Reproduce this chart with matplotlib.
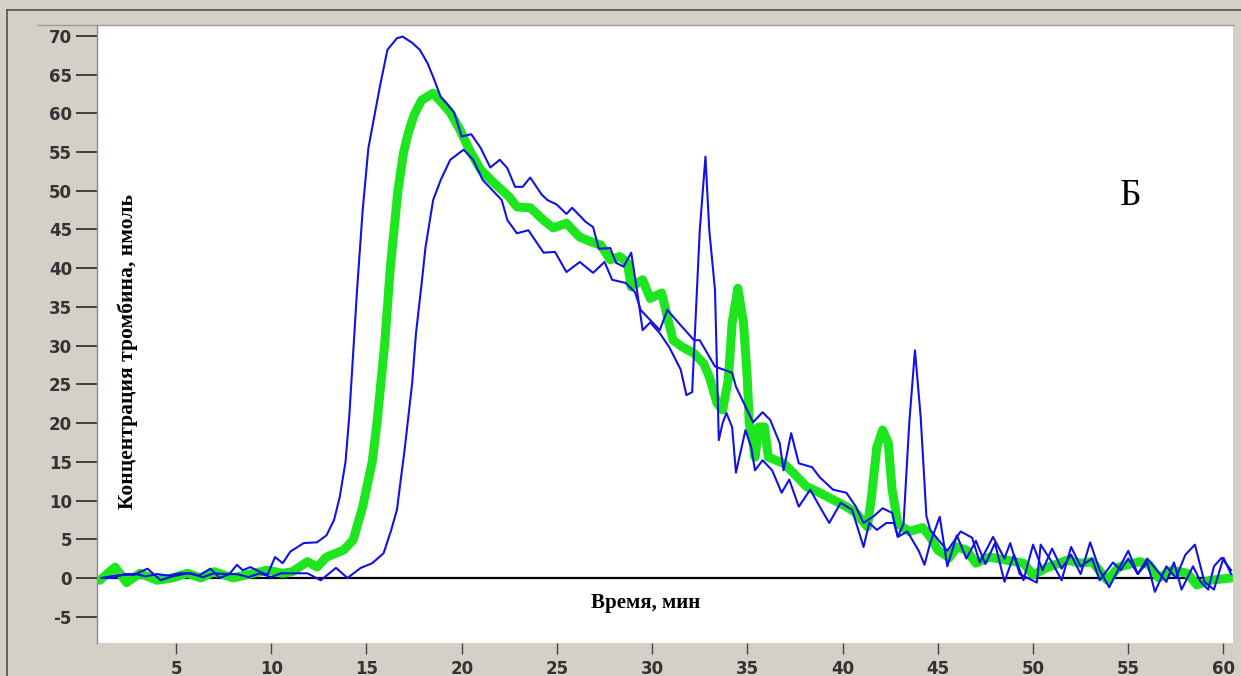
import matplotlib
matplotlib.use("Agg")
import matplotlib.pyplot as plt
from matplotlib.lines import Line2D

plt.rcParams["axes.unicode_minus"] = False

# -----------------------
# Data
# -----------------------

# early blue curve (rises first, spike near 33 min)
blue_a_x = [1.1, 1.8, 2.3, 2.8, 3.5, 4.2, 4.8, 5.6, 6.2, 6.8, 7.3, 7.8, 8.2, 8.5, 8.9,
            9.4, 9.8, 10.2, 10.6, 11.0, 11.7, 12.4, 12.9, 13.3, 13.6, 13.9, 14.1, 14.3,
            14.5, 14.8, 15.1, 15.7, 16.1, 16.6, 16.9, 17.4, 17.8, 18.2, 18.5, 18.9, 19.2,
            19.6, 20.0, 20.5, 21.0, 21.5, 22.0, 22.4, 22.8, 23.2, 23.6, 24.2, 24.5, 25.0,
            25.5, 25.8, 26.5, 26.9, 27.2, 27.8, 28.1, 28.5, 28.9, 29.2, 29.5, 29.9, 30.4,
            30.9, 31.5, 31.8, 32.1, 32.5, 32.8, 33.0, 33.3, 33.5, 33.7, 33.9, 34.2, 34.4,
            34.9, 35.2, 35.4, 35.8, 36.3, 36.8, 37.2, 37.7, 38.3, 38.8, 39.3, 39.9, 40.5,
            41.1, 41.4, 41.8, 42.3, 42.7, 42.9, 43.4, 44.0, 44.3, 44.6, 45.1, 45.5, 46.0,
            46.5, 47.0, 47.5, 48.0, 48.5, 49.0, 49.5, 50.0, 50.5, 51.0, 51.5, 52.0, 52.5,
            53.0, 53.5, 54.0, 54.5, 55.0, 55.5, 56.0, 56.4, 57.0, 57.5, 58.0, 58.5, 59.0,
            59.5, 60.0, 60.4]
blue_a_y = [0.0, 0.3, 0.4, 0.4, 1.2, -0.3, 0.2, 0.6, 0.3, 1.2, 0.0, 0.5, 1.7, 1.0, 1.4,
            0.8, 0.4, 2.7, 1.9, 3.4, 4.5, 4.6, 5.5, 7.5, 10.5, 15.0, 21.0, 29.0,
            37.0, 47.5, 55.5, 63.4, 68.2, 69.7, 69.9, 69.1, 68.2, 66.5, 64.7, 62.1, 61.3,
            60.1, 57.0, 57.3, 55.5, 53.0, 54.0, 52.9, 50.5, 50.5, 51.7, 49.5, 48.8, 48.2,
            47.0, 47.8, 46.0, 45.3, 42.5, 42.6, 40.7, 40.2, 42.0, 37.2, 32.0, 33.0, 31.6,
            29.8, 26.9, 23.6, 24.0, 44.9, 54.4, 44.9, 37.2, 17.8, 20.0, 21.3, 19.5, 13.6,
            19.1, 16.9, 13.9, 15.2, 13.9, 11.0, 12.7, 9.2, 11.4, 9.2, 7.1, 9.7, 8.8,
            4.0, 7.1, 6.2, 7.1, 7.1, 5.3, 6.0, 3.5, 1.7, 4.5, 7.9, 1.5, 5.5,
            2.5, 4.8, 1.8, 4.5, -0.5, 3.0, -0.3, 4.3, 1.0, 3.8, 1.2, 3.0, 0.5,
            4.6, 1.0, -1.2, 1.2, 3.5, 0.5, 2.0, -1.8, 1.5, 0.0, 3.0, 4.3, -0.5,
            -1.5, 2.6, 0.5]

# late blue curve (rises last, spike near 44 min)
blue_b_x = [1.1, 1.7, 2.3, 2.9, 3.4, 4.0, 4.6, 5.2, 5.8, 6.4, 7.0, 7.6, 8.2, 8.8, 9.4,
            10.0, 10.5, 11.2, 11.9, 12.6, 13.4, 14.0, 14.7, 15.3, 15.9, 16.3, 16.6, 16.8,
            17.0, 17.4, 17.6, 17.9, 18.1, 18.5, 18.9, 19.4, 20.1, 20.6, 21.1, 21.6, 22.1,
            22.4, 22.9, 23.5, 24.3, 24.9, 25.5, 26.2, 26.9, 27.5, 27.9, 28.6, 29.1, 29.4,
            29.9, 30.4, 30.8, 31.4, 32.2, 32.5, 33.3, 34.2, 34.4, 35.3, 35.8, 36.2, 36.7,
            36.9, 37.3, 37.7, 38.4, 38.8, 39.5, 40.2, 40.7, 41.1, 41.6, 42.1, 42.6, 42.9,
            43.2, 43.5, 43.8, 44.1, 44.4, 44.6, 45.0, 45.5, 46.2, 46.8, 47.2, 47.9, 48.5,
            48.8, 49.3, 50.2, 50.4, 51.0, 51.5, 52.0, 52.5, 53.1, 53.5, 54.2, 54.6, 55.0,
            55.5, 56.0, 56.5, 57.0, 57.4, 57.8, 58.4, 58.8, 59.2, 59.5, 59.9, 60.4]
blue_b_y = [0.0, 0.0, 0.5, 0.5, 0.2, 0.5, 0.3, 0.6, 0.6, 0.1, 0.6, 0.5, 0.5, 0.1, 0.6,
            0.1, 0.6, 0.6, 0.6, -0.3, 1.3, 0.0, 1.3, 1.9, 3.2, 6.2, 8.8, 12.7,
            16.5, 25.2, 31.6, 38.1, 42.7, 48.8, 51.4, 54.0, 55.3, 54.0, 51.4, 50.1, 48.8,
            46.2, 44.5, 44.9, 42.0, 42.1, 39.5, 40.8, 39.4, 40.8, 38.5, 38.1, 36.9, 34.6,
            33.3, 32.0, 34.6, 32.9, 30.7, 30.7, 27.3, 26.5, 24.7, 20.1, 21.4, 20.4, 17.4,
            13.9, 18.7, 14.8, 14.3, 13.0, 11.4, 11.0, 9.2, 7.1, 7.9, 9.0, 8.4, 5.3,
            7.0, 20.0, 29.4, 20.8, 8.0, 6.2, 5.0, 3.5, 6.0, 5.2, 2.0, 5.3, 2.5,
            4.5, 0.5, -0.6, 4.3, 2.0, -0.3, 4.0, 1.5, 2.5, -0.3, 2.0, 1.0, 2.5,
            0.5, 2.5, 1.0, -0.5, 2.0, -1.5, 1.5, -0.5, -1.5, 1.5, 2.6, 1.0]

# thick green curve (average)
green_x = [1.0, 1.8, 2.4, 3.1, 4.0, 4.8, 5.6, 6.3, 7.0, 8.0, 8.7, 9.8, 10.6, 11.1, 11.9,
           12.4, 12.9, 13.8, 14.3, 14.8, 15.3, 15.55, 15.75, 15.95, 16.25, 16.65, 16.95,
           17.2, 17.5, 17.9, 18.5, 18.9, 19.4, 19.9, 20.4, 21.0, 21.7, 22.5, 22.9, 23.6,
           24.3, 24.8, 25.5, 26.2, 26.9, 27.3, 27.8, 28.3, 28.7, 28.9, 29.5, 29.9, 30.5,
           30.8, 31.1, 31.6, 32.2, 32.7, 33.0, 33.4, 33.7, 34.0, 34.2, 34.5, 34.8, 35.0,
           35.1, 35.3, 35.4, 35.6, 35.9, 36.1, 36.5, 36.9, 37.4, 38.1, 38.8, 39.5, 40.2,
           40.7, 41.3, 41.5, 41.8, 42.1, 42.4, 42.6, 42.9, 43.5, 44.2, 44.6, 45.0, 45.6,
           46.0, 46.5, 47.0, 47.7, 48.6, 49.5, 50.0, 50.7, 51.8, 52.5, 53.1, 53.9, 54.5,
           55.6, 56.1, 56.6, 57.3, 58.1, 58.6, 59.3, 60.4]
green_y = [-0.3, 1.4, -0.6, 0.6, -0.3, 0.0, 0.6, 0.0, 0.8, 0.0, 0.4, 1.0, 0.6, 0.8, 2.1,
           1.4, 2.7, 3.6, 4.9, 9.2, 15.0, 20.0, 25.0, 30.0, 40.0, 50.0, 55.0,
           57.5, 59.8, 61.7, 62.6, 61.5, 60.1, 57.9, 55.3, 52.7, 51.0, 49.2, 47.9, 47.8,
           46.2, 45.2, 45.8, 44.0, 43.3, 43.0, 41.1, 41.5, 40.7, 37.6, 38.5, 36.1, 36.8,
           33.7, 30.7, 29.8, 29.0, 27.7, 26.0, 22.6, 21.7, 25.6, 32.9, 37.4, 32.9, 25.6,
           20.0, 17.4, 15.6, 19.5, 19.5, 15.6, 15.2, 14.8, 13.6, 11.8, 11.0, 10.1, 9.2,
           8.4, 6.6, 10.1, 16.9, 19.1, 17.4, 11.4, 7.0, 6.0, 6.5, 5.3, 3.6, 2.6,
           4.0, 3.6, 1.9, 2.7, 2.3, 1.9, 0.4, 1.3, 2.3, 1.9, 2.1, -0.3, 1.4,
           2.1, 1.7, 0.0, 1.0, 0.6, -0.9, -0.3, 0.0]

x_ticks = [5, 10, 15, 20, 25, 30, 35, 40, 45, 50, 55, 60]
y_ticks = [-5, 0, 5, 10, 15, 20, 25, 30, 35, 40, 45, 50, 55, 60, 65, 70]

x_label = "Время, мин"
y_label = "Концентрация тромбина, нмоль"
panel_label = "Б"

# -----------------------
# Figure
# -----------------------

W, H = 1241, 676
frame_gray = "#d4d0c8"
blue = "#1212e6"
green = "#1ee61e"

fig = plt.figure(figsize=(W / 100, H / 100), dpi=100, facecolor=frame_gray)
ax = fig.add_axes([97 / W, 1 - 643 / H, (1233 - 97) / W, (643 - 25) / H])
ax.set_facecolor("white")

ax.axhline(0, color="black", lw=1.6, zorder=1)
ax.plot(green_x, green_y, color=green, lw=6.5, solid_joinstyle="round",
        solid_capstyle="round", zorder=2)
ax.plot(blue_a_x, blue_a_y, color=blue, lw=1.5, zorder=3)
ax.plot(blue_b_x, blue_b_y, color=blue, lw=1.5, zorder=3)

ax.set_xlim(0.85, 60.5)
ax.set_ylim(-8.4, 71.4)
ax.set_xticks(x_ticks)
ax.set_yticks(y_ticks)

for side in ["top", "right", "bottom"]:
    ax.spines[side].set_visible(False)
ax.spines["left"].set_color("#8a8a8a")
ax.spines["left"].set_linewidth(1.0)

ax.tick_params(axis="y", direction="out", length=15, width=1.3, color="#333333",
               pad=3, labelsize=12, labelcolor="#333333")
ax.tick_params(axis="x", direction="out", length=8, width=1.0, color="#444444",
               pad=4, labelsize=12, labelcolor="#333333")
for lbl in ax.get_xticklabels() + ax.get_yticklabels():
    lbl.set_fontweight("bold")

ax.text(2.48, 29.2, y_label, rotation=90, ha="center", va="center",
        family="Liberation Serif", fontweight="bold", fontsize=15.5, zorder=4)
ax.text(29.67, -3.2, x_label, ha="center", va="center",
        family="Liberation Serif", fontweight="bold", fontsize=15, zorder=4)
ax.text(55.1, 49.3, panel_label, ha="center", va="center",
        family="Liberation Serif", fontsize=27, zorder=4)

# window frame lines
fig.add_artist(Line2D([7 / W, 1], [1 - 10 / H, 1 - 10 / H], color="#505050", lw=1.2))
fig.add_artist(Line2D([7 / W, 7 / W], [0, 1 - 10 / H], color="#505050", lw=1.2))
fig.add_artist(Line2D([38 / W, 1233 / W], [1 - 24.5 / H, 1 - 24.5 / H],
                      color="#9a9a9a", lw=1.0))

fig.savefig("out.png", dpi=100, facecolor=fig.get_facecolor())
